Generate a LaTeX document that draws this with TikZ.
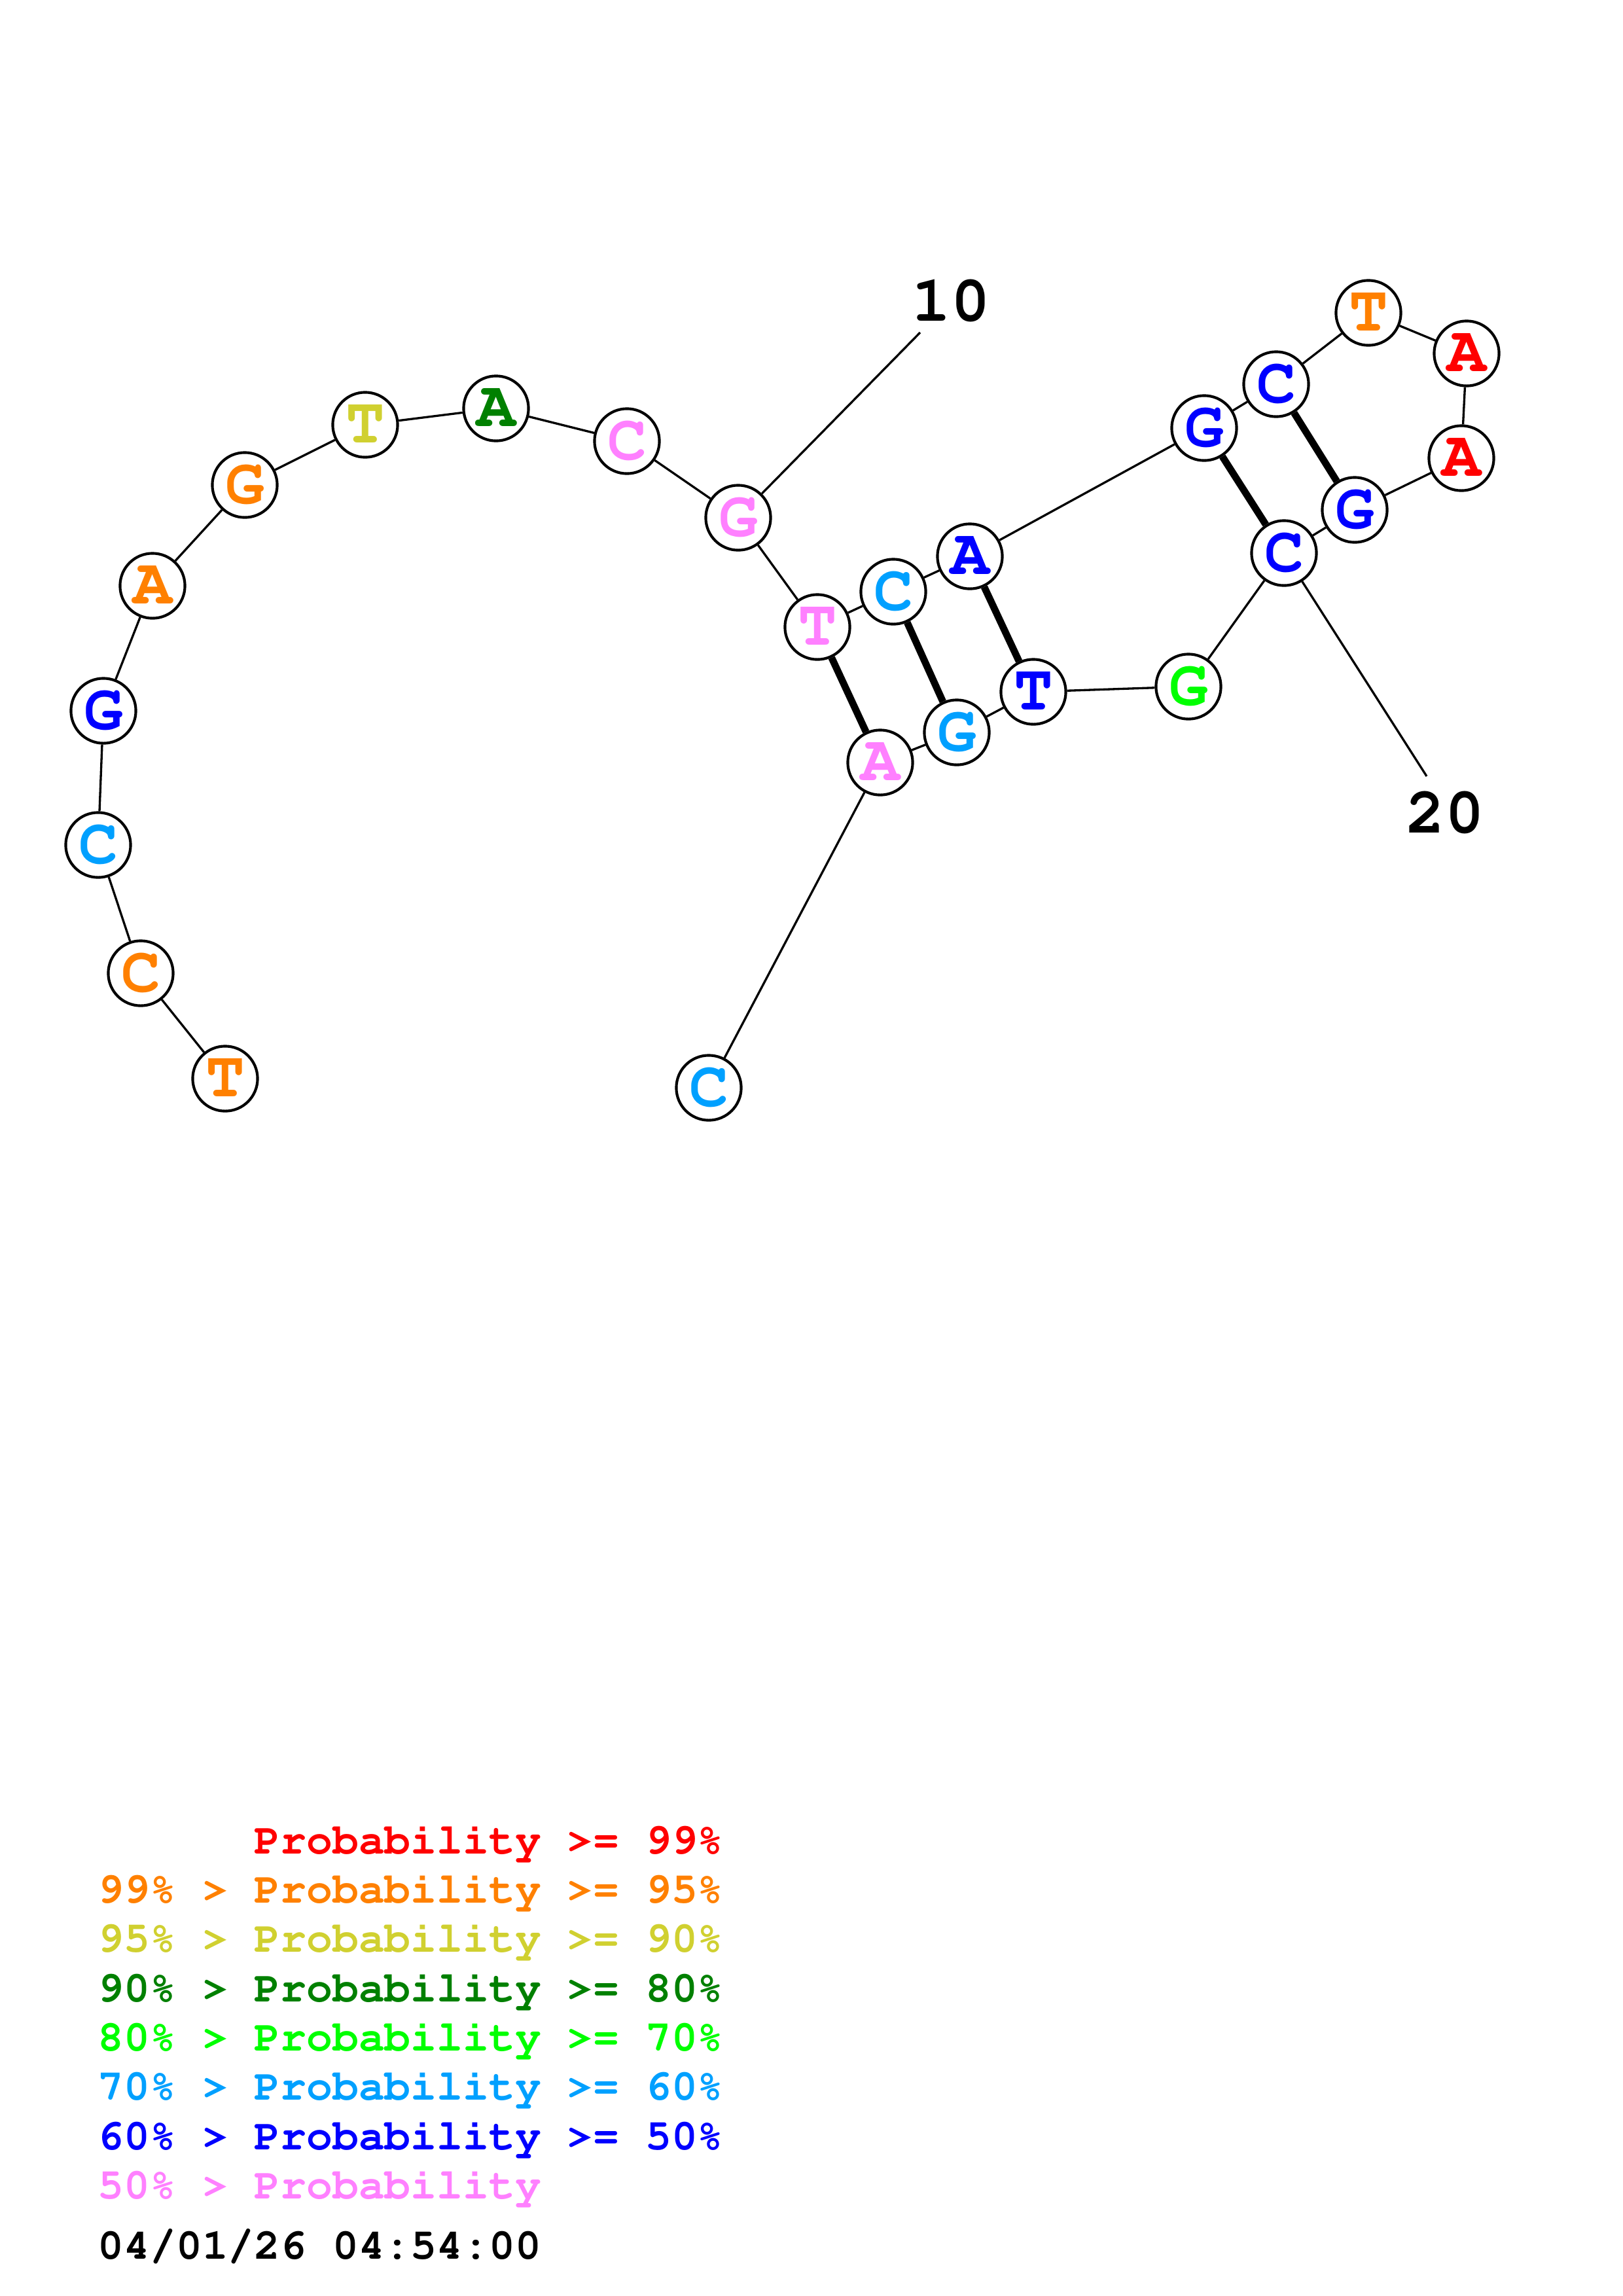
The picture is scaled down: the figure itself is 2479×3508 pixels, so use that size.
\documentclass[tikz,border=0pt]{standalone}
\usepackage[T1]{fontenc}
\usepackage{tikz}
\usetikzlibrary{positioning}
\newcommand{\crbold}{\fontfamily{pcr}\fontseries{b}\selectfont}
\definecolor{pr99}{RGB}{255,0,0}
\definecolor{pr95}{RGB}{255,128,0}
\definecolor{pr90}{RGB}{208,208,48}
\definecolor{pr80}{RGB}{0,128,0}
\definecolor{pr70}{RGB}{0,255,0}
\definecolor{pr60}{RGB}{0,160,255}
\definecolor{pr50}{RGB}{0,0,255}
\definecolor{prlow}{RGB}{255,128,255}
\tikzset{
  base/.style={circle,draw=black,line width=1pt,fill=white,minimum size=8.4mm,inner sep=0pt,font=\fontsize{24}{24}\crbold},
  bb/.style={line width=0.8pt},
  pair/.style={line width=2.6pt},
  num/.style={inner sep=0pt,font=\fontsize{24}{24}\crbold},
  legend/.style={anchor=base west,inner sep=0pt,font=\fontsize{16}{18}\crbold},
}
\begin{document}
\begin{tikzpicture}[x=0.08471mm,y=-0.08471mm]
\useasboundingbox (0,0) rectangle (2479,3508);
%5' tail
\node[base,text=pr95] (n1) at (344,1648) {T};
\node[base,text=pr95] (n2) at (215,1487) {C};
\node[base,text=pr60] (n3) at (150,1291) {C};
\node[base,text=pr50] (n4) at (158,1086) {G};
\node[base,text=pr95] (n5) at (233,895) {A};
\node[base,text=pr95] (n6) at (374,741) {G};
\node[base,text=pr90] (n7) at (558,649) {T};
\node[base,text=pr80] (n8) at (758,624) {A};
\node[base,text=prlow] (n9) at (958,674) {C};
\node[base,text=prlow] (n10) at (1128,791) {G};
%first stem
\node[base,text=prlow] (n11) at (1249,958) {T};
\node[base,text=pr60] (n12) at (1365,904) {C};
\node[base,text=pr50] (n13) at (1482,850) {A};
%hairpin
\node[base,text=pr50] (n14) at (1840,654) {G};
\node[base,text=pr50] (n15) at (1950,587) {C};
\node[base,text=pr95] (n16) at (2091,478) {T};
\node[base,text=pr99] (n17) at (2241,540) {A};
\node[base,text=pr99] (n18) at (2233,700) {A};
\node[base,text=pr50] (n19) at (2070,779) {G};
\node[base,text=pr50] (n20) at (1962,845) {C};
%back down
\node[base,text=pr70] (n21) at (1816,1049) {G};
\node[base,text=pr50] (n22) at (1579,1057) {T};
\node[base,text=pr60] (n23) at (1462,1119) {G};
\node[base,text=prlow] (n24) at (1345,1165) {A};
\node[base,text=pr60] (n25) at (1083,1662) {C};
%backbone
\draw[bb] (n1) -- (n2) -- (n3) -- (n4) -- (n5) -- (n6) -- (n7) -- (n8) -- (n9) -- (n10) -- (n11) -- (n12) -- (n13) -- (n14) -- (n15) -- (n16) -- (n17) -- (n18) -- (n19) -- (n20) -- (n21) -- (n22) -- (n23) -- (n24) -- (n25);
%pairs
\draw[pair] (n11) -- (n24);
\draw[pair] (n12) -- (n23);
\draw[pair] (n13) -- (n22);
\draw[pair] (n14) -- (n20);
\draw[pair] (n15) -- (n19);
%numbering
\coordinate (t10) at (1406,508);
\node[num] (lab10) at (1453,460) {10};
\draw[bb] (n10) -- (t10);
\coordinate (t20) at (2180,1186);
\node[num] (lab20) at (2208,1242) {20};
\draw[bb] (n20) -- (t20);
%legend
\node[legend,text=pr99] (l1) at (149,2832) {\phantom{99\% > }Probability >= 99\%};
\node[legend,text=pr95] (l2) at (149,2907) {99\% > Probability >= 95\%};
\node[legend,text=pr90] (l3) at (149,2982) {95\% > Probability >= 90\%};
\node[legend,text=pr80] (l4) at (149,3058) {90\% > Probability >= 80\%};
\node[legend,text=pr70] (l5) at (149,3133) {80\% > Probability >= 70\%};
\node[legend,text=pr60] (l6) at (149,3208) {70\% > Probability >= 60\%};
\node[legend,text=pr50] (l7) at (149,3284) {60\% > Probability >= 50\%};
\node[legend,text=prlow] (l8) at (149,3359) {50\% > Probability};
\node[legend,text=black] (date) at (149,3451) {04/01/26 04:54:00};
\end{tikzpicture}
\end{document}
